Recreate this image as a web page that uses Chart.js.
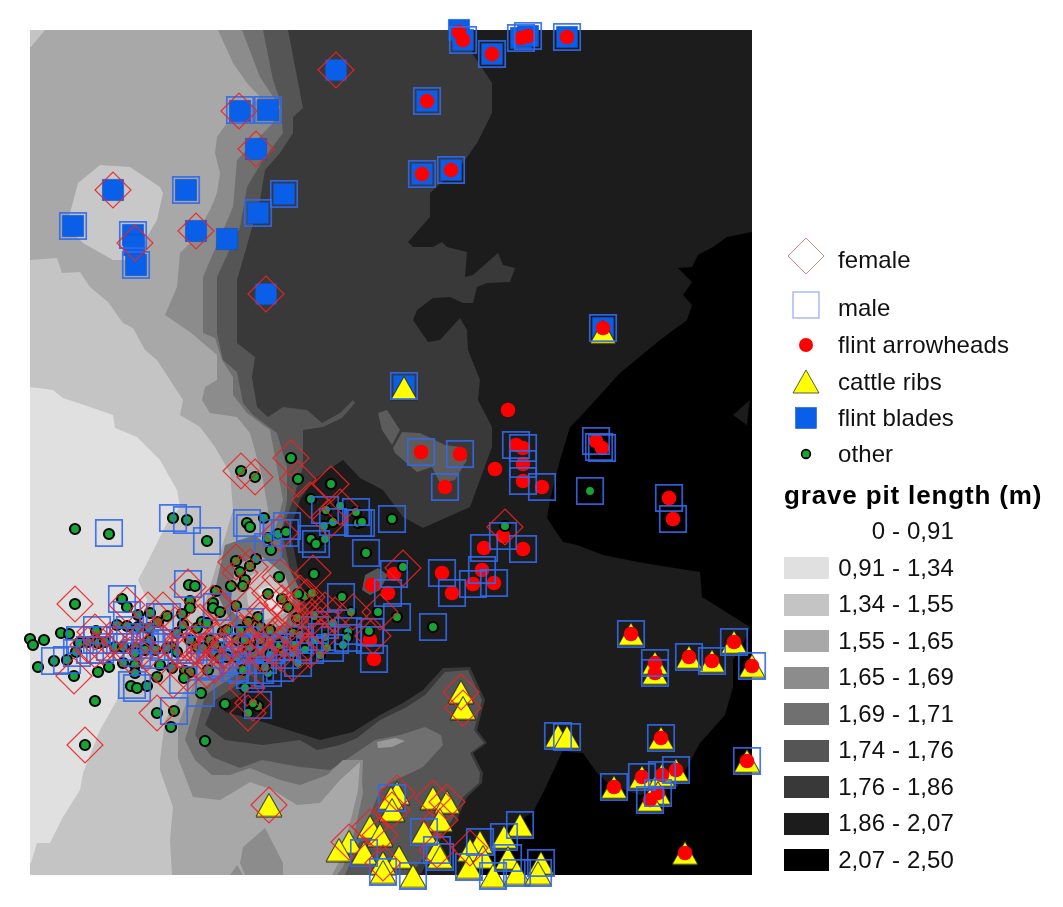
<!DOCTYPE html>
<html><head><meta charset="utf-8">
<style>
html,body{margin:0;padding:0;background:#fff;width:1063px;height:907px;overflow:hidden}
#wrap{position:relative;width:1063px;height:907px}
canvas{position:absolute;left:0;top:0}
.t{position:absolute;font-family:"Liberation Sans",Arial,sans-serif;font-size:24px;letter-spacing:.1px;color:#111;white-space:nowrap;line-height:28px}
.sw{position:absolute}
</style>
<script src="https://cdn.jsdelivr.net/npm/chart.js@4"></script>
</head><body><div id="wrap"><canvas id="c" width="1063" height="907"></canvas></div>
<script>
// Map extent, in map units
const extentX=[30,752], extentY=[30,875];

const blades=[[336,70],[240,111],[268,110],[256,149],[113,190],[186,190],[284,194],[258,213],[73,226],[133,235],[134,245],[136,265],[196,231],[227,239],[266,294],
[459,30],[463,40],[492,54],[521,38],[528,36],[567,37],[427,101],[422,174],[451,170],[603,328],[404,386]];
const ribs=[[603,332],[404,388],[461,692],[463,708],[269,805],[558,736],[567,737],[661,738],[614,787],[642,777],[662,775],[676,770],[658,793],[650,800],[747,761],[685,853],
[631,634],[655,663],[655,673],[689,657],[712,661],[734,642],[752,666],[397,793],[391,798],[392,810],[433,798],[447,802],[440,820],[370,827],[380,835],[424,832],[520,825],[504,837],
[349,842],[339,850],[364,853],[399,857],[383,863],[383,872],[437,850],[440,857],[480,842],[470,850],[508,858],[483,857],[469,867],[413,876],[493,876],[517,873],[541,863],[538,873]];
const arrowheads=[[459,32],[463,40],[492,54],[521,38],[528,36],[567,37],[427,101],[422,174],[451,170],[603,328],[508,410],[495,469],[421,452],[460,454],[445,487],[516,445],[523,448],[523,464],[523,481],[542,487],[596,441],[602,448],[669,498],[673,519],
[503,536],[484,548],[523,549],[482,570],[442,573],[452,593],[473,584],[494,583],[394,574],[372,585],[388,593],[370,640],[374,659],
[631,634],[655,663],[655,673],[689,657],[712,661],[734,642],[752,666],[661,738],[614,787],[642,777],[662,775],[676,770],[658,793],[650,800],[747,761],[685,853]];
const other=[[590,491],[505,526],[433,627],[403,567],[291,458],[298,479],[331,484],[311,499],[241,471],[255,477],[75,529],[109,534],[173,518],[187,520],[207,541],[247,523],[250,527],[264,518],[268,538],[278,534],[286,532],[271,550],[311,539],[316,544],[325,539],[392,519],[358,523],[356,512],[362,522],[340,506],[326,510],[333,522],[324,526],[366,553],[314,574],[279,577],[256,559],[236,561],[250,566],[240,572],[245,580],[243,586],[231,586],[216,591],[189,585],[195,586],[75,604],[122,599],[127,607],[190,601],[190,608],[213,603],[213,608],[220,612],[236,606],[268,594],[282,599],[288,607],[305,596],[298,594],[312,593],[342,597],[351,612],[378,612],[397,617],[314,616],[297,618],[369,631],[348,632],[333,623],[347,638],[325,637],[343,645],[327,648],[310,642],[293,633],[293,653],[298,663],[268,673],[265,667],[245,688],[225,704],[258,706],[253,703],[248,713],[201,693],[208,670],[185,671],[190,672],[184,678],[174,711],[157,713],[171,727],[205,741],[85,745],[95,701],[74,676],[98,672],[109,667],[38,667],[54,661],[67,660],[30,639],[33,645],[44,640],[61,633],[69,634],[76,652],[79,643],[96,631],[88,642],[98,643],[105,642],[115,647],[117,625],[127,626],[138,615],[150,613],[138,627],[149,628],[158,622],[167,616],[182,614],[183,625],[123,647],[135,648],[145,650],[135,653],[123,663],[135,665],[135,673],[160,665],[172,668],[157,677],[131,686],[137,688],[147,686],[172,647],[177,652],[167,648],[177,633],[197,647],[203,648],[197,628],[202,622],[207,623],[223,632],[227,630],[213,653],[220,658],[227,657],[237,657],[247,653],[253,653],[250,647],[248,622],[258,617],[270,630],[260,627],[243,670],[273,648],[283,653],[280,645],[220,647],
[150,640],[155,650],[190,640],[210,640],[215,645],[237,640],[245,640],[260,640],[270,655],[285,640],[295,645],[305,650],[315,640],[320,655],[300,635],[240,630]];
const male=[[268,110],[240,110],[186,190],[284,194],[258,213],[73,226],[133,235],[136,265],
[463,40],[492,54],[521,38],[528,36],[567,37],[427,101],[422,174],[451,170],[603,328],[404,386],[421,452],[460,454],[445,487],[516,445],[523,448],[523,464],[523,481],[542,487],[596,441],[599,447],[602,448],[669,498],[673,519],[503,536],[484,548],[523,549],[482,570],[442,573],[452,593],[473,584],[494,583],[590,491],[433,627],
[631,634],[655,663],[655,673],[689,657],[712,661],[734,642],[752,666],[558,736],[567,737],[661,738],[614,787],[642,777],[662,775],[676,770],[658,793],[650,800],[747,761],
[392,798],[424,832],[520,825],[504,837],[364,853],[383,872],[437,850],[440,857],[480,842],[508,858],[469,867],[413,876],[493,876],[517,873],[541,863],[538,873],
[122,599],[97,630],[55,661],[67,660],[77,653],[188,584],[173,518],[187,520],[207,541],[109,533],[247,523],[250,528],[287,526],[285,533],[277,533],[268,547],[312,539],[316,544],[325,510],[333,522],[356,512],[358,523],[361,523],[392,519],[366,553],[341,597],[397,617],[370,632],[370,640],[374,659],[388,593],[394,574],[348,631],[348,638],[330,648],[322,637],[298,663],[298,647],[268,673],[243,670],[258,705],[201,693],[174,711],[132,685],[137,688],[183,680],[160,617],[167,617],[127,615],[137,653],[140,637],[165,647],[178,647],[127,647],[110,647],[97,640],[217,607],[213,647],[237,647],[250,622],[263,660],[233,660],[220,663],[277,647],[287,647],
[150,640],[155,655],[190,650],[200,640],[225,655],[245,640],[255,650],[270,650],[285,655],[300,640],[310,650],[315,630],[325,625],[335,640],[80,640],[90,650],[120,640],[130,630],[185,650],[210,665],[235,668],[250,675],[280,668],[260,670],[100,650],[145,645]];
const female=[[336,70],[239,111],[256,149],[113,190],[135,243],[196,231],[266,294],[505,527],[403,568],
[461,692],[463,708],[397,793],[392,810],[433,798],[447,802],[440,820],[370,827],[380,835],[349,842],[383,863],[437,850],[470,848],[269,805],
[241,471],[255,477],[291,458],[298,479],[331,484],[310,500],[340,507],[330,520],[280,533],[313,573],[236,562],[250,567],[240,573],[280,577],[188,587],[75,604],[127,605],[95,632],[74,676],[85,745],[157,713],[187,673],[247,688],[253,703],[248,713],[373,636],[353,612],[380,612],[307,597],[313,610],[300,593],[270,593],[282,603],[290,610],[260,620],[240,633],[220,607],[213,603],[200,622],[205,650],[193,647],[220,653],[247,647],[267,643],[293,663],[207,670],[148,610],[163,610],[137,643],[95,650],[103,647],[160,667],[147,653],[183,640],[173,680],[293,633],[310,620],[320,637],[280,653],[260,653],
[120,640],[130,655],[155,635],[175,625],[200,640],[215,640],[230,640],[240,650],[255,640],[265,655],[275,635],[285,640],[300,650],[310,650],[320,625],[325,610],[335,615],[205,655],[215,665],[225,650],[195,660],[180,650],[160,640],[110,640],[88,645],[290,620],[300,605],[265,610],[250,605]];

// Grey classes of the interpolated surface (legend order)
const classLabels=["0 - 0,91","0,91 - 1,34","1,34 - 1,55","1,55 - 1,65","1,65 - 1,69","1,69 - 1,71","1,74 - 1,76","1,76 - 1,86","1,86 - 2,07","2,07 - 2,50"];
const classGreys=["#ffffff","#e0e0e0","#c4c4c4","#a8a8a8","#8c8c8c","#707070","#555555","#393939","#1c1c1c","#000000"];

// Contour outlines, [x,y] in map units
const rimBlack=[[30,30],[752,30],[752,232],[727,237],[713,247],[698,255],[692,267],[678,268],[692,282],[683,295],[692,305],[687,320],[660,340],[620,373],[580,417],[570,427],[560,460],[550,500],[547,518],[563,542],[577,545],[603,555],[643,563],[700,572],[702,597],[750,627],[745,640],[733,660],[733,687],[725,715],[700,743],[687,767],[677,787],[640,795],[610,785],[597,773],[583,753],[570,752],[563,750],[543,793],[533,812],[505,830],[490,850],[470,875],[30,875]];
const islandRight=[[733,415],[750,400],[749,404],[747,425]];
const rim39North=[[30,30],[470,30],[472,53],[492,83],[492,113],[477,143],[463,163],[430,193],[430,217],[408,242],[413,247],[433,247],[442,242],[447,247],[467,252],[465,277],[473,275],[498,253],[503,265],[515,268],[510,282],[487,283],[477,287],[473,303],[463,303],[450,297],[433,298],[417,310],[413,320],[428,342],[440,340],[460,318],[467,330],[468,350],[480,380],[478,400],[492,427],[492,447],[470,507],[423,528],[403,517],[383,490],[360,478],[343,460],[313,480],[300,500],[290,530],[300,580],[310,620],[290,660],[250,690],[220,705],[30,705]];
const rim39South=[[210,690],[225,712],[263,722],[320,740],[353,732],[380,715],[403,703],[423,690],[443,668],[470,667],[485,700],[477,730],[487,743],[473,753],[483,773],[482,783],[467,797],[457,820],[440,840],[420,875],[30,875],[30,690]];
const rim55=[[30,30],[288,30],[297,77],[303,108],[293,117],[293,133],[280,153],[265,170],[260,200],[237,280],[237,343],[255,357],[252,377],[257,407],[268,417],[283,407],[307,410],[322,423],[340,413],[353,400],[355,403],[342,418],[323,427],[303,430],[303,467],[293,500],[282,530],[290,570],[300,610],[280,650],[245,680],[215,700],[205,725],[225,740],[263,745],[300,740],[317,750],[340,745],[357,738],[380,720],[405,708],[425,695],[445,672],[468,670],[482,700],[474,730],[484,743],[470,753],[480,773],[479,783],[463,797],[452,820],[430,850],[410,875],[30,875]];
const rim70=[[30,30],[263,30],[273,80],[280,100],[283,133],[263,160],[247,187],[240,227],[217,277],[217,333],[223,360],[237,372],[243,403],[253,415],[277,433],[287,467],[287,500],[280,540],[285,580],[285,620],[265,650],[235,675],[205,695],[195,735],[212,757],[240,768],[262,760],[300,767],[330,770],[350,757],[375,740],[400,735],[425,727],[441,735],[443,745],[423,767],[413,772],[395,780],[380,790],[372,810],[360,840],[345,875],[30,875]];
const rim8c=[[30,30],[242,30],[260,77],[280,107],[273,123],[237,160],[233,207],[203,277],[203,333],[215,338],[222,360],[233,377],[233,395],[247,413],[270,430],[283,500],[275,530],[270,560],[275,600],[265,640],[235,665],[200,690],[185,740],[195,760],[212,775],[230,775],[250,768],[280,780],[300,785],[327,775],[343,760],[363,760],[362,783],[363,793],[355,830],[343,867],[337,875],[30,875]];
const rimA8=[[30,30],[218,30],[233,63],[247,83],[260,97],[245,110],[227,123],[217,137],[215,153],[220,173],[217,193],[210,210],[193,240],[180,253],[177,287],[165,315],[190,332],[203,343],[217,355],[217,380],[205,387],[202,400],[210,413],[237,417],[250,433],[263,480],[268,510],[262,540],[260,590],[255,625],[225,650],[195,680],[178,725],[178,758],[193,797],[220,800],[237,790],[250,782],[273,790],[297,805],[320,803],[340,780],[360,762],[358,790],[352,815],[340,860],[332,875],[30,875]];
const rimC4=[[30,260],[57,258],[62,273],[80,272],[90,287],[108,302],[123,323],[133,328],[145,350],[157,360],[183,400],[180,415],[200,427],[215,447],[230,473],[233,510],[213,577],[200,620],[195,650],[185,690],[165,720],[160,760],[160,770],[173,807],[170,840],[172,875],[30,875]];
const rimE0=[[30,387],[53,390],[63,398],[90,407],[113,415],[115,428],[137,437],[160,460],[177,490],[180,507],[167,523],[147,563],[138,580],[147,600],[140,630],[120,667],[117,700],[100,730],[83,773],[80,790],[63,817],[50,843],[37,843],[31,863],[30,863]];
const cornerC4=[[30,30],[45,30],[31,47],[30,47]];
const blobC4=[[70,213],[78,183],[100,165],[130,167],[160,187],[163,193],[157,220],[145,240],[135,260],[113,260],[83,243],[67,227]];
const tongue55=[[378,413],[387,410],[400,430],[392,445],[382,430]];
const blob55=[[402,432],[420,433],[445,445],[460,447],[467,460],[455,480],[440,483],[432,467],[417,472],[395,453],[393,448]];
const spot55=[[362,590],[365,575],[378,568],[388,575],[380,590],[370,595]];
const centre70=[[225,545],[255,535],[285,560],[300,590],[300,625],[270,640],[235,630],[215,590]];
const centreA8=[[235,565],[260,555],[285,575],[293,600],[285,625],[255,630],[230,610]];
const centreC4=[[245,578],[265,570],[285,590],[287,612],[265,620],[248,605]];
const centreE0=[[258,590],[272,585],[284,600],[280,612],[265,610]];
const southIsland=[[243,847],[265,828],[283,863],[283,875],[245,875],[240,863]];
const southNick=[[230,875],[237,865],[243,875]];
const ridgeSpot=[[377,742],[395,738],[405,741],[392,747],[378,748]];

// Layers of the surface, painted in this order
const surface=[[rimBlack,"#1c1c1c"],[islandRight,"#1c1c1c"],[rim39North,"#393939"],[rim39South,"#393939"],[rim55,"#555555"],[rim70,"#707070"],[rim8c,"#8c8c8c"],[rimA8,"#a8a8a8"],[rimC4,"#c4c4c4"],[rimE0,"#e0e0e0"],[cornerC4,"#c4c4c4"],[blobC4,"#c8c8c8"],[tongue55,"#5c5c5c"],[blob55,"#5c5c5c"],[spot55,"#555555"],[centre70,"#707070"],[centreA8,"#a8a8a8"],[centreC4,"#c4c4c4"],[centreE0,"#e0e0e0"],[southIsland,"#8c8c8c"],[southNick,"#8c8c8c"],[ridgeSpot,"#999999"]];

const markerLabels=["female","male","flint arrowheads","cattle ribs","flint blades","other"];
const legendTitle="grave pit length (m)";

const toXY=a=>a.map(p=>({x:p[0],y:p[1]}));

// Triangle with its box centred on the point
function triangleSprite(w,h){
  const c=document.createElement('canvas');c.width=w+2;c.height=h+2;
  const g=c.getContext('2d');g.beginPath();g.moveTo(w/2+1,1);g.lineTo(w+1,h+1);g.lineTo(1,h+1);g.closePath();
  g.fillStyle='#ffff00';g.fill();g.lineWidth=1;g.strokeStyle='#222';g.stroke();return c;
}
const tri=triangleSprite(26,23);

const datasets=[];
surface.forEach(([poly,col])=>datasets.push({type:'line',data:toXY(poly),backgroundColor:col,borderColor:col,borderWidth:0,fill:'shape',pointRadius:0,tension:0,clip:false}));
const mark=(data,o)=>datasets.push(Object.assign({type:'scatter',data:toXY(data),clip:false,pointHoverRadius:0},o));
mark(blades,{pointStyle:'rect',pointRadius:15,backgroundColor:'#0a5fe8',borderColor:'#0a4fc0',borderWidth:0.5});
mark(ribs,{pointStyle:tri,pointRadius:14});
mark(arrowheads,{pointStyle:'circle',pointRadius:7.3,backgroundColor:'#ff0000',borderWidth:0});
mark(other,{pointStyle:'circle',pointRadius:5,backgroundColor:'#16a535',borderColor:'#000',borderWidth:2.2});
mark(male,{pointStyle:'rect',pointRadius:18.7,backgroundColor:'transparent',borderColor:'rgba(50,105,235,0.9)',borderWidth:1.7});
mark(female,{pointStyle:'rectRot',pointRadius:18,backgroundColor:'transparent',borderColor:'rgba(235,35,35,0.9)',borderWidth:1.2});
datasets.forEach((d,i)=>d.order=-i);

new Chart(document.getElementById('c'),{
  type:'scatter',
  data:{datasets},
  options:{responsive:false,animation:false,events:[],
    layout:{padding:{left:extentX[0],top:extentY[0],right:1063-extentX[1],bottom:907-extentY[1]}},
    plugins:{legend:{display:false},tooltip:{enabled:false}},
    scales:{x:{type:'linear',display:false,min:extentX[0],max:extentX[1]},
            y:{type:'linear',display:false,reverse:true,min:extentY[0],max:extentY[1]}}}
});

// The darkest class lies behind the whole surface
const wrap=document.getElementById('wrap');
const bg=document.createElement('div');
bg.style.cssText=`position:absolute;left:${extentX[0]}px;top:${extentY[0]}px;width:${extentX[1]-extentX[0]}px;height:${extentY[1]-extentY[0]}px;background:${classGreys[9]}`;
wrap.insertBefore(bg,wrap.firstChild);

// Legend
const svgNS='http://www.w3.org/2000/svg';
function text(s,x,base,opt={}){
  const d=document.createElement('div');d.className='t';d.textContent=s;
  d.style.top=(base-21)+'px';
  if(opt.right!==undefined){d.style.right=(1063-opt.right)+'px';}else{d.style.left=x+'px';}
  if(opt.bold){d.style.fontWeight='bold';d.style.fontSize='26px';d.style.letterSpacing='.85px';d.style.color='#000';}
  wrap.appendChild(d);
}
function glyph(markup,cx,cy){
  const s=document.createElementNS(svgNS,'svg');
  s.setAttribute('width','50');s.setAttribute('height','50');s.setAttribute('viewBox','-25 -25 50 50');
  s.style.cssText=`position:absolute;left:${cx-25}px;top:${cy-25}px`;
  s.innerHTML=markup;wrap.appendChild(s);
}
const markerY=[256,305,345,382,418,454], markerBase=[267,315,352,389,425,461];
const glyphs=[
 '<polygon points="-18,0 0,-18 18,0 0,18" fill="none" stroke="#e8808a" stroke-width="1"/>',
 '<rect x="-13" y="-13" width="26" height="26" fill="none" stroke="#9bb0f2" stroke-width="1.3"/>',
 '<circle r="7" fill="#ff0000"/>',
 '<polygon points="0,-12 13,11 -13,11" fill="#ffff00" stroke="#333" stroke-width="0.8"/>',
 '<rect x="-10.5" y="-10.5" width="21" height="21" fill="#0a5fe8" stroke="#0a4fc0" stroke-width="0.5"/>',
 '<circle r="4.4" fill="#16a535" stroke="#000" stroke-width="1.6"/>'];
markerLabels.forEach((l,i)=>{glyph(glyphs[i],806,markerY[i]);text(l,838,markerBase[i]);});
text(legendTitle,784,502,{bold:true});
classLabels.forEach((l,i)=>{
  const base=538+i*36.5;
  text(l,0,base,{right:954});
  if(i>0){const s=document.createElement('div');s.className='sw';
    s.style.cssText+=`left:784px;top:${Math.round(520.5+i*36.5)}px;width:45px;height:22px;background:${classGreys[i]}`;wrap.appendChild(s);}
});
</script></body></html>
